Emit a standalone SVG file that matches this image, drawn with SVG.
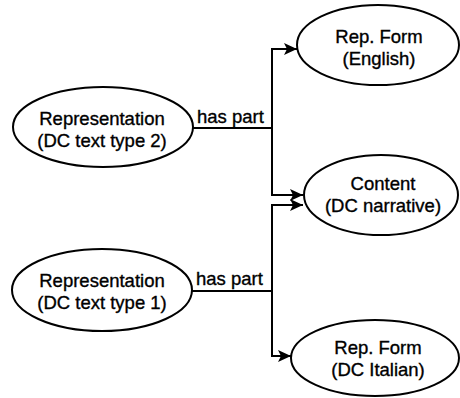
<svg xmlns="http://www.w3.org/2000/svg" width="460" height="398" viewBox="0 0 460 398">
<defs>
<marker id="ah" markerUnits="userSpaceOnUse" markerWidth="14" markerHeight="12" refX="13" refY="6" orient="auto">
<path d="M0,0 L13,6 L0,12 L3,6 Z" fill="#000"/>
</marker>
<style>
.n ellipse{fill:#fff;stroke:#000;stroke-width:2}
text{font-family:"Liberation Sans",Arial,sans-serif;font-size:18.5px;fill:#000;stroke:#000;stroke-width:0.35;text-anchor:middle}
.c path{fill:none;stroke:#000;stroke-width:2}
.lbl{text-anchor:start}
</style>
</defs>
<rect width="460" height="398" fill="#fff"/>
<g class="c" id="connectors">
<path d="M192,128 H272"/>
<path d="M272,195 V49 H297" marker-end="url(#ah)"/>
<path d="M272,128 V195 H303" marker-end="url(#ah)"/>
<path d="M191,291 H272"/>
<path d="M272,291 V205 H303" marker-end="url(#ah)"/>
<path d="M272,291 V356 H291" marker-end="url(#ah)"/>
<text class="lbl" x="197" y="123">has part</text>
<text class="lbl" x="196" y="285">has part</text>
</g>
<g class="n" id="rep2">
<ellipse cx="103" cy="127" rx="90" ry="40"/>
<text x="102" y="125">Representation</text>
<text x="102" y="147">(DC text type 2)</text>
</g>
<g class="n" id="rep1">
<ellipse cx="102" cy="290" rx="90" ry="41"/>
<text x="102" y="287">Representation</text>
<text x="102" y="309">(DC text type 1)</text>
</g>
<g class="n" id="english">
<ellipse cx="378" cy="45" rx="81" ry="40"/>
<text x="379" y="43">Rep. Form</text>
<text x="379" y="65">(English)</text>
</g>
<g class="n" id="content">
<ellipse cx="381" cy="195" rx="77" ry="40"/>
<text x="383" y="190">Content</text>
<text x="383" y="212">(DC narrative)</text>
</g>
<g class="n" id="italian">
<ellipse cx="375" cy="358" rx="84" ry="38"/>
<text x="378" y="354">Rep. Form</text>
<text x="378" y="376">(DC Italian)</text>
</g>
</svg>
